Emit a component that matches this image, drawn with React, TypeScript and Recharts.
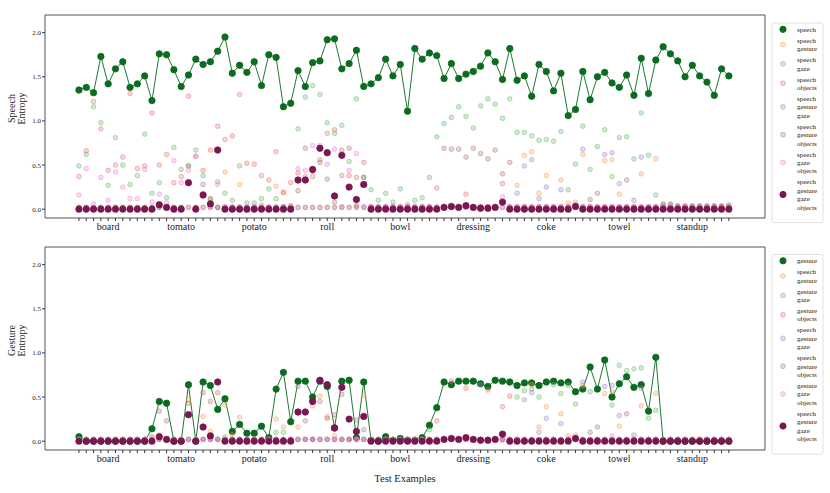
import React from 'react';
import { ComposedChart, Line, XAxis, YAxis, ReferenceArea } from 'recharts';

const FONT = '"Liberation Serif", "DejaVu Serif", serif';

const GROUPS = ['board', 'tomato', 'potato', 'roll', 'bowl', 'dressing', 'coke', 'towel', 'standup'];
const INDEX = Array.from({ length: 90 }, (_, i) => i);

// ---- speech entropy panel ----
const speech = [
  1.35, 1.38, 1.32, 1.73, 1.42, 1.59, 1.67, 1.38, 1.42, 1.51,
  1.23, 1.76, 1.75, 1.58, 1.39, 1.52, 1.70, 1.64, 1.67, 1.79,
  1.95, 1.54, 1.63, 1.55, 1.67, 1.40, 1.75, 1.72, 1.16, 1.20,
  1.57, 1.39, 1.66, 1.68, 1.92, 1.93, 1.59, 1.65, 1.80, 1.39,
  1.42, 1.49, 1.70, 1.51, 1.64, 1.11, 1.82, 1.70, 1.77, 1.74,
  1.48, 1.65, 1.48, 1.53, 1.56, 1.62, 1.77, 1.67, 1.47, 1.82,
  1.46, 1.51, 1.28, 1.64, 1.56, 1.34, 1.54, 1.06, 1.13, 1.56,
  1.24, 1.50, 1.55, 1.43, 1.38, 1.52, 1.29, 1.71, 1.31, 1.69,
  1.84, 1.76, 1.68, 1.50, 1.63, 1.51, 1.44, 1.29, 1.59, 1.51,
];
const speechGesture = [
  0.02, 0.02, 0.02, 0.02, 0.02, 0.02, 0.02, 0.02, 0.02, 0.02,
  0.02, 0.05, 0.02, 0.02, 0.02, 0.02, 0.02, 0.02, 0.02, 0.02,
  0.42, 0.02, 0.28, 0.02, 0.02, 0.05, 0.02, 0.26, 0.19, 0.02,
  0.02, 0.02, 0.02, 0.02, 0.02, 0.02, 0.02, 0.02, 0.02, 0.02,
  0.02, 0.02, 0.02, 0.02, 0.02, 0.02, 0.02, 0.02, 0.02, 0.02,
  0.02, 0.02, 0.02, 0.02, 0.02, 0.02, 0.02, 0.02, 0.02, 0.02,
  0.27, 0.61, 0.65, 0.18, 0.38, 0.02, 0.33, 0.07, 0.08, 0.62,
  0.02, 0.02, 0.55, 0.56, 0.17, 0.02, 0.02, 0.40, 0.02, 0.57,
  0.02, 0.02, 0.02, 0.02, 0.02, 0.02, 0.02, 0.02, 0.02, 0.02,
];
const speechGaze = [
  0.49, 0.62, 1.16, 0.98, 0.27, 0.81, 0.50, 0.28, 0.38, 0.85,
  0.18, 0.30, 0.13, 0.70, 0.45, 0.49, 0.67, 0.38, 0.11, 0.31,
  0.18, 0.10, 0.49, 0.07, 0.07, 0.12, 0.23, 0.12, 0.03, 0.04,
  0.91, 1.27, 1.40, 1.30, 0.98, 0.86, 0.95, 0.54, 1.25, 0.36,
  0.22, 0.10, 0.18, 0.08, 0.23, 0.05, 0.10, 0.13, 0.36, 0.82,
  0.97, 1.04, 1.16, 1.05, 0.92, 1.17, 1.25, 1.19, 1.03, 1.25,
  0.87, 0.87, 0.83, 0.78, 0.79, 0.77, 0.88, 0.22, 0.51, 0.94,
  0.45, 0.71, 0.90, 0.37, 0.81, 0.82, 0.57, 1.09, 0.61, 0.16,
  0.06, 0.06, 0.04, 0.04, 0.04, 0.04, 0.04, 0.04, 0.04, 0.05,
];
const speechObjects = [
  0.37, 0.66, 1.22, 0.91, 0.44, 0.50, 0.59, 1.31, 0.46, 0.49,
  1.09, 0.50, 0.62, 0.30, 0.37, 1.28, 0.60, 0.44, 0.67, 0.94,
  0.79, 0.83, 1.30, 0.52, 0.51, 0.38, 0.33, 0.65, 0.19, 0.30,
  0.41, 0.37, 0.37, 0.56, 0.86, 0.90, 0.38, 0.38, 0.36, 0.53,
  0.03, 0.03, 0.03, 0.03, 0.03, 0.03, 0.03, 0.03, 0.03, 0.24,
  0.03, 0.03, 0.03, 0.17, 0.03, 0.03, 0.03, 0.03, 0.29, 0.03,
  0.03, 0.03, 0.03, 0.03, 0.03, 0.03, 0.03, 0.03, 0.03, 0.03,
  0.03, 0.03, 0.03, 0.03, 0.03, 0.03, 0.03, 0.03, 0.03, 0.03,
  0.03, 0.03, 0.03, 0.03, 0.03, 0.03, 0.03, 0.03, 0.03, 0.03,
];
const speechGestureGaze = [
  0.02, 0.02, 0.02, 0.02, 0.02, 0.02, 0.02, 0.02, 0.02, 0.02,
  0.02, 0.02, 0.02, 0.02, 0.02, 0.02, 0.02, 0.02, 0.02, 0.02,
  0.02, 0.02, 0.02, 0.02, 0.02, 0.02, 0.02, 0.02, 0.02, 0.02,
  0.02, 0.02, 0.02, 0.02, 0.02, 0.02, 0.02, 0.02, 0.02, 0.02,
  0.02, 0.02, 0.02, 0.02, 0.02, 0.02, 0.02, 0.02, 0.02, 0.02,
  0.02, 0.02, 0.02, 0.02, 0.02, 0.02, 0.02, 0.02, 0.02, 0.02,
  0.18, 0.49, 0.56, 0.12, 0.25, 0.02, 0.22, 0.02, 0.05, 0.68,
  0.02, 0.02, 0.62, 0.64, 0.29, 0.02, 0.10, 0.59, 0.02, 0.02,
  0.02, 0.02, 0.02, 0.02, 0.02, 0.02, 0.02, 0.02, 0.02, 0.02,
];
const speechGestureObjects = [
  0.02, 0.02, 0.02, 0.02, 0.02, 0.02, 0.02, 0.02, 0.02, 0.02,
  0.02, 0.02, 0.02, 0.02, 0.02, 0.49, 0.02, 0.28, 0.12, 0.02,
  0.02, 0.02, 0.02, 0.02, 0.02, 0.02, 0.02, 0.02, 0.02, 0.02,
  0.21, 0.69, 0.43, 0.53, 0.34, 0.08, 0.67, 0.69, 0.04, 0.36,
  0.02, 0.02, 0.02, 0.02, 0.02, 0.02, 0.02, 0.02, 0.02, 0.02,
  0.69, 0.68, 0.68, 0.59, 0.69, 0.63, 0.57, 0.67, 0.40, 0.53,
  0.02, 0.02, 0.02, 0.02, 0.02, 0.02, 0.02, 0.02, 0.02, 0.02,
  0.11, 0.18, 0.02, 0.02, 0.02, 0.33, 0.02, 0.02, 0.02, 0.02,
  0.05, 0.05, 0.03, 0.03, 0.03, 0.03, 0.03, 0.03, 0.03, 0.03,
];
const speechGazeObjects = [
  0.16, 0.46, 0.06, 0.36, 0.10, 0.42, 0.25, 0.12, 0.12, 0.45,
  0.08, 0.17, 0.07, 0.55, 0.30, 0.44, 0.60, 0.18, 0.03, 0.28,
  0.03, 0.03, 0.03, 0.03, 0.03, 0.03, 0.03, 0.03, 0.03, 0.03,
  0.46, 0.44, 0.72, 0.72, 0.51, 0.68, 0.03, 0.44, 0.63, 0.03,
  0.03, 0.03, 0.03, 0.03, 0.03, 0.03, 0.03, 0.03, 0.03, 0.03,
  0.03, 0.03, 0.03, 0.03, 0.03, 0.03, 0.03, 0.03, 0.14, 0.03,
  0.03, 0.03, 0.03, 0.03, 0.03, 0.03, 0.03, 0.03, 0.03, 0.03,
  0.03, 0.03, 0.03, 0.03, 0.03, 0.03, 0.03, 0.03, 0.03, 0.03,
  0.03, 0.03, 0.03, 0.03, 0.03, 0.03, 0.03, 0.03, 0.03, 0.03,
];
// all four modalities: identical in both panels
const allFour = [
  0, 0, 0, 0, 0, 0, 0, 0, 0, 0,
  0, 0.05, 0.02, 0, 0, 0.30, 0, 0.16, 0.06, 0.67,
  0, 0, 0, 0, 0, 0, 0, 0, 0, 0,
  0.33, 0.33, 0.45, 0.69, 0.64, 0.15, 0.61, 0.25, 0.11, 0.28,
  0, 0, 0, 0, 0, 0, 0, 0, 0, 0,
  0.02, 0.03, 0.02, 0.04, 0.02, 0.01, 0.01, 0.02, 0.08, 0,
  0, 0, 0, 0, 0, 0, 0, 0, 0.03, 0,
  0, 0, 0, 0, 0, 0, 0, 0, 0, 0,
  0, 0, 0, 0, 0, 0, 0, 0, 0, 0,
];

// ---- gesture entropy panel ----
const gesture = [
  0.05, 0, 0, 0, 0, 0, 0, 0, 0, 0,
  0.14, 0.45, 0.43, 0, 0, 0.64, 0, 0.67, 0.63, 0.36,
  0.48, 0.11, 0.19, 0.09, 0.09, 0.17, 0.04, 0.59, 0.78, 0.22,
  0.68, 0.68, 0.50, 0.68, 0.62, 0.15, 0.68, 0.69, 0.04, 0.67,
  0.01, 0, 0.05, 0.01, 0.03, 0.01, 0.01, 0.04, 0.18, 0.38,
  0.67, 0.64, 0.68, 0.68, 0.68, 0.65, 0.62, 0.69, 0.68, 0.67,
  0.63, 0.66, 0.66, 0.63, 0.67, 0.68, 0.66, 0.67, 0.56, 0.59,
  0.84, 0.59, 0.92, 0.50, 0.65, 0.73, 0.61, 0.64, 0.34, 0.95,
  0, 0, 0, 0, 0, 0, 0, 0, 0, 0,
];
const gSpeechGesture = [
  0.02, 0.02, 0.02, 0.02, 0.02, 0.02, 0.02, 0.02, 0.02, 0.02,
  0.02, 0.07, 0.02, 0.02, 0.02, 0.47, 0.02, 0.28, 0.11, 0.02,
  0.41, 0.07, 0.27, 0.02, 0.02, 0.02, 0.02, 0.25, 0.16, 0.02,
  0.16, 0.02, 0.40, 0.51, 0.28, 0.06, 0.02, 0.02, 0.02, 0.52,
  0.02, 0.02, 0.02, 0.02, 0.02, 0.02, 0.02, 0.02, 0.02, 0.02,
  0.02, 0.02, 0.02, 0.02, 0.02, 0.02, 0.02, 0.02, 0.02, 0.02,
  0.02, 0.02, 0.64, 0.16, 0.39, 0.02, 0.31, 0.06, 0.07, 0.63,
  0.02, 0.02, 0.54, 0.56, 0.17, 0.02, 0.02, 0.40, 0.02, 0.54,
  0.02, 0.02, 0.02, 0.02, 0.02, 0.02, 0.02, 0.02, 0.02, 0.02,
];
const gGestureGaze = [
  0.02, 0.02, 0.02, 0.02, 0.02, 0.02, 0.02, 0.02, 0.02, 0.02,
  0.02, 0.02, 0.02, 0.02, 0.02, 0.02, 0.02, 0.02, 0.02, 0.02,
  0.05, 0.02, 0.02, 0.02, 0.02, 0.02, 0.02, 0.10, 0.10, 0.02,
  0.02, 0.02, 0.02, 0.02, 0.02, 0.02, 0.02, 0.02, 0.02, 0.02,
  0.02, 0.02, 0.02, 0.02, 0.02, 0.02, 0.02, 0.02, 0.13, 0.02,
  0.02, 0.02, 0.02, 0.02, 0.02, 0.02, 0.02, 0.02, 0.02, 0.02,
  0.50, 0.57, 0.59, 0.50, 0.02, 0.64, 0.54, 0.63, 0.42, 0.02,
  0.56, 0.02, 0.02, 0.41, 0.86, 0.80, 0.82, 0.83, 0.26, 0.35,
  0.02, 0.02, 0.02, 0.02, 0.02, 0.02, 0.02, 0.02, 0.02, 0.02,
];
const gGestureObjects = [
  0.02, 0.02, 0.02, 0.02, 0.02, 0.02, 0.02, 0.02, 0.02, 0.02,
  0.02, 0.02, 0.02, 0.02, 0.02, 0.02, 0.02, 0.02, 0.02, 0.02,
  0.02, 0.02, 0.02, 0.02, 0.02, 0.02, 0.02, 0.02, 0.02, 0.02,
  0.02, 0.02, 0.02, 0.02, 0.02, 0.02, 0.02, 0.02, 0.02, 0.02,
  0.02, 0.02, 0.02, 0.02, 0.02, 0.02, 0.02, 0.02, 0.02, 0.23,
  0.02, 0.68, 0.02, 0.60, 0.02, 0.02, 0.58, 0.02, 0.39, 0.51,
  0.02, 0.02, 0.02, 0.02, 0.02, 0.02, 0.02, 0.02, 0.02, 0.02,
  0.02, 0.02, 0.02, 0.02, 0.02, 0.02, 0.02, 0.02, 0.02, 0.02,
  0.02, 0.02, 0.02, 0.02, 0.02, 0.02, 0.02, 0.02, 0.02, 0.02,
];
const gSpeechGestureGaze = [
  0.02, 0.02, 0.02, 0.02, 0.02, 0.02, 0.02, 0.02, 0.02, 0.02,
  0.02, 0.02, 0.02, 0.02, 0.02, 0.02, 0.02, 0.02, 0.02, 0.02,
  0.02, 0.02, 0.02, 0.02, 0.02, 0.02, 0.02, 0.02, 0.02, 0.02,
  0.02, 0.02, 0.02, 0.02, 0.02, 0.02, 0.02, 0.02, 0.02, 0.02,
  0.02, 0.02, 0.02, 0.02, 0.02, 0.02, 0.02, 0.02, 0.02, 0.02,
  0.02, 0.02, 0.02, 0.02, 0.02, 0.64, 0.02, 0.02, 0.02, 0.02,
  0.02, 0.47, 0.55, 0.10, 0.26, 0.02, 0.20, 0.02, 0.02, 0.67,
  0.02, 0.02, 0.62, 0.63, 0.29, 0.02, 0.07, 0.60, 0.02, 0.02,
  0.02, 0.02, 0.02, 0.02, 0.02, 0.02, 0.02, 0.02, 0.02, 0.02,
];
const gSpeechGestureObjects = [
  0.02, 0.02, 0.02, 0.02, 0.02, 0.02, 0.02, 0.02, 0.02, 0.02,
  0.05, 0.34, 0.23, 0.02, 0.02, 0.43, 0.02, 0.55, 0.45, 0.55,
  0.02, 0.02, 0.02, 0.02, 0.02, 0.02, 0.02, 0.02, 0.02, 0.02,
  0.62, 0.23, 0.02, 0.45, 0.26, 0.30, 0.53, 0.02, 0.24, 0.13,
  0.02, 0.02, 0.02, 0.02, 0.02, 0.02, 0.02, 0.02, 0.02, 0.02,
  0.02, 0.02, 0.02, 0.02, 0.02, 0.02, 0.02, 0.02, 0.02, 0.02,
  0.02, 0.02, 0.02, 0.02, 0.02, 0.02, 0.02, 0.02, 0.02, 0.02,
  0.10, 0.16, 0.02, 0.02, 0.02, 0.31, 0.02, 0.02, 0.02, 0.02,
  0.02, 0.02, 0.02, 0.02, 0.02, 0.02, 0.02, 0.02, 0.02, 0.02,
];
const gGestureGazeObjects = [
  0.02, 0.02, 0.02, 0.02, 0.02, 0.02, 0.02, 0.02, 0.02, 0.02,
  0.02, 0.02, 0.02, 0.02, 0.02, 0.02, 0.02, 0.02, 0.02, 0.02,
  0.02, 0.02, 0.02, 0.02, 0.02, 0.02, 0.02, 0.02, 0.02, 0.02,
  0.02, 0.02, 0.02, 0.02, 0.02, 0.02, 0.02, 0.02, 0.02, 0.02,
  0.02, 0.02, 0.02, 0.02, 0.02, 0.02, 0.02, 0.02, 0.02, 0.02,
  0.02, 0.02, 0.02, 0.02, 0.02, 0.02, 0.02, 0.02, 0.01, 0.02,
  0.02, 0.02, 0.02, 0.02, 0.02, 0.02, 0.02, 0.02, 0.02, 0.02,
  0.02, 0.02, 0.02, 0.06, 0.02, 0.02, 0.02, 0.02, 0.02, 0.02,
  0.02, 0.02, 0.02, 0.02, 0.02, 0.02, 0.02, 0.02, 0.02, 0.02,
];

const COLORS = ['#0b6b1f', '#fb9a50', '#5fb85f', '#e86a6a', '#9a80c8', '#a87468', '#ec7fd6', '#7a1650'];

const TOP_LABELS = [
  ['speech'], ['speech', 'gesture'], ['speech', 'gaze'], ['speech', 'objects'],
  ['speech', 'gesture', 'gaze'], ['speech', 'gesture', 'objects'], ['speech', 'gaze', 'objects'],
  ['speech', 'gesture', 'gaze', 'objects'],
];
const BOTTOM_LABELS = [
  ['gesture'], ['speech', 'gesture'], ['gesture', 'gaze'], ['gesture', 'objects'],
  ['speech', 'gesture', 'gaze'], ['speech', 'gesture', 'objects'], ['gesture', 'gaze', 'objects'],
  ['speech', 'gesture', 'gaze', 'objects'],
];

const TOP_SERIES = [speech, speechGesture, speechGaze, speechObjects, speechGestureGaze, speechGestureObjects, speechGazeObjects, allFour];
const BOTTOM_SERIES = [gesture, gSpeechGesture, gGestureGaze, gGestureObjects, gSpeechGestureGaze, gSpeechGestureObjects, gGestureGazeObjects, allFour];

const X_DOMAIN = [-4.65, 93.95];
const Y_DOMAIN = [-0.1, 2.2];
const Y_TICKS = [0, 0.5, 1, 1.5, 2];

const buildRows = (series: number[][]) =>
  INDEX.map((i) => {
    const row: Record<string, number> = { x: i };
    series.forEach((s, k) => (row['s' + k] = s[i]));
    return row;
  });

const XTick = (props: any) => {
  const { x, y, payload } = props;
  if (payload.value % 10 !== 4) return <g />;
  return (
    <text x={x} y={y} dy={7} textAnchor="middle" fontSize={10} fontFamily={FONT} fill="#222">
      {GROUPS[Math.floor(payload.value / 10)]}
    </text>
  );
};

const YTitle = ({ viewBox, lines }: any) => {
  const cx = 16.5;
  const cy = viewBox.y + viewBox.height / 2 - 8;
  return (
    <text transform={`rotate(-90 ${cx} ${cy})`} textAnchor="middle" fontSize={10} fontFamily={FONT} fill="#222">
      <tspan x={cx} y={cy - 1.5}>{lines[0]}</tspan>
      <tspan x={cx} y={cy + 8}>{lines[1]}</tspan>
    </text>
  );
};

function Panel({ series, title, bottom }: { series: number[][]; title: string[]; bottom?: boolean }) {
  const rows = buildRows(series);
  const height = bottom ? 259 : 238;
  return (
    <ComposedChart width={830} height={height} data={rows} margin={{ top: 15, right: 65, bottom: 0, left: 5 }}>
      <ReferenceArea x1={X_DOMAIN[0]} x2={X_DOMAIN[1]} y1={Y_DOMAIN[0]} y2={Y_DOMAIN[1]} fill="none" stroke="#555" strokeWidth={1} />
      <XAxis
        dataKey="x"
        type="number"
        domain={X_DOMAIN}
        allowDataOverflow
        ticks={INDEX}
        interval={0}
        tickSize={3}
        tickMargin={2}
        axisLine={false}
        tickLine={{ stroke: '#333' }}
        tick={<XTick />}
        height={bottom ? 41 : 20}
        label={bottom ? { value: 'Test Examples', position: 'insideBottom', offset: 9, fontSize: 10.5, fontFamily: FONT, fill: '#222' } : undefined}
      />
      <YAxis
        type="number"
        domain={Y_DOMAIN}
        allowDataOverflow
        ticks={Y_TICKS}
        width={40}
        tickSize={3}
        tickMargin={1}
        axisLine={false}
        tickLine={{ stroke: '#333' }}
        tick={{ fontSize: 7, fontFamily: FONT, fill: '#222' }}
        tickFormatter={(v: number) => v.toFixed(1)}
        label={{ content: (p: any) => <YTitle {...p} lines={title} /> }}
      />
      <Line
        dataKey="s0"
        stroke="#1b7a30"
        strokeWidth={1}
        dot={{ r: 3.2, fill: COLORS[0], stroke: COLORS[0], strokeWidth: 0.8 }}
        activeDot={false}
        isAnimationActive={false}
      />
      {[1, 2, 3, 4, 5, 6].map((k) => (
        <Line
          key={k}
          dataKey={'s' + k}
          stroke="none"
          dot={{ r: 2.3, fill: COLORS[k], fillOpacity: 0.28, stroke: COLORS[k], strokeOpacity: 0.45, strokeWidth: 1 }}
          activeDot={false}
          isAnimationActive={false}
        />
      ))}
      <Line
        dataKey="s7"
        stroke="none"
        dot={{ r: 3.2, fill: COLORS[7], stroke: COLORS[7], strokeWidth: 0.8 }}
        activeDot={false}
        isAnimationActive={false}
      />
    </ComposedChart>
  );
}

function LegendBox({ labels, top }: { labels: string[][]; top: number }) {
  let cursor = top + 6.3;
  const items = labels.map((lines, k) => {
    const start = cursor;
    cursor += lines.length * 8.4 + 2.6;
    const mid = start + ((lines.length - 1) * 8.4) / 2;
    const strong = k === 0 || k === 7;
    return (
      <g key={k}>
        <circle
          cx={783}
          cy={mid}
          r={strong ? 3.1 : 2.4}
          fill={COLORS[k]}
          fillOpacity={strong ? 1 : 0.28}
          stroke={COLORS[k]}
          strokeOpacity={strong ? 1 : 0.45}
        />
        {lines.map((t, j) => (
          <text key={j} x={797} y={start + j * 8.4 + 2.4} fontSize={7} fontFamily={FONT} fill="#222">
            {t}
          </text>
        ))}
      </g>
    );
  });
  return (
    <g>
      <rect x={772} y={top} width={51} height={cursor - top + 4.5} rx={2} fill="#fff" stroke="#d8d8d8" strokeWidth={0.8} />
      {items}
    </g>
  );
}

export default function App() {
  return (
    <div style={{ position: 'absolute', left: 0, top: 0, width: 830, height: 493, background: '#fff' }}>
      <div style={{ position: 'absolute', left: 0, top: 0 }}>
        <Panel series={TOP_SERIES} title={['Speech', 'Entropy']} />
      </div>
      <div style={{ position: 'absolute', left: 0, top: 232 }}>
        <Panel series={BOTTOM_SERIES} title={['Gesture', 'Entropy']} bottom />
      </div>
      <svg width={830} height={493} style={{ position: 'absolute', left: 0, top: 0, pointerEvents: 'none' }}>
        <LegendBox labels={TOP_LABELS} top={23} />
        <LegendBox labels={BOTTOM_LABELS} top={254.5} />
      </svg>
    </div>
  );
}
